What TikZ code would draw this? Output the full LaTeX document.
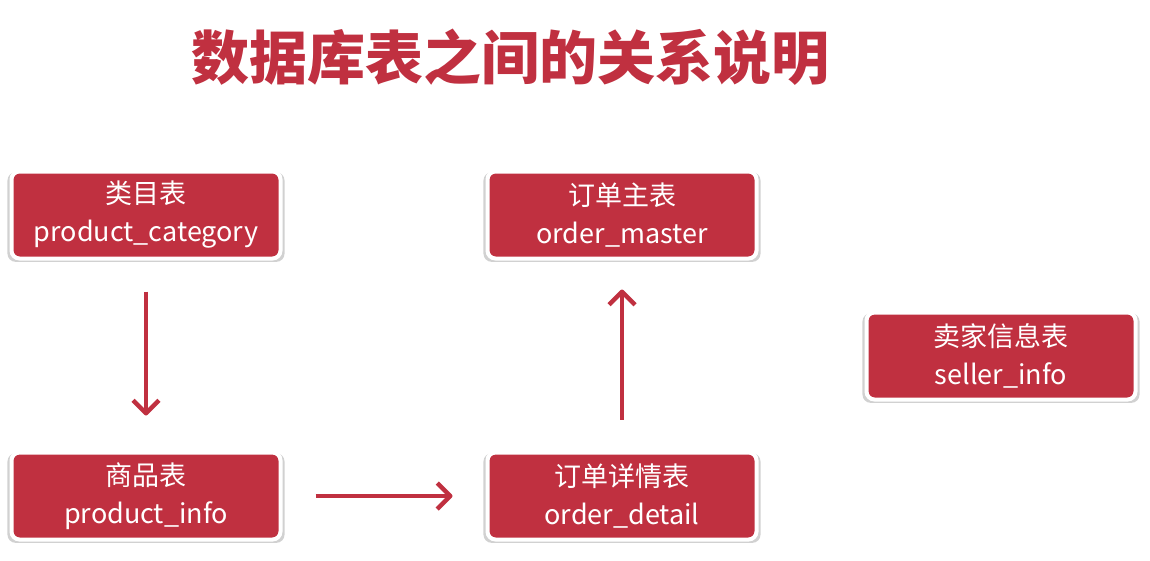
\documentclass[tikz,border=0pt]{standalone}
\usepackage{fontspec}
\setmainfont{Noto Sans CJK SC}
\usetikzlibrary{arrows.meta,shadows}
\definecolor{tblred}{RGB}{192,48,64}
\begin{document}
\begin{tikzpicture}[x=1pt, y=-1pt,
  tbl/.style={draw=white, line width=4pt, fill=tblred, rounded corners=8pt,
    minimum width=269pt, minimum height=87pt, inner sep=0pt, text=white, align=center,
    font=\fontsize{27}{38}\selectfont,
    general shadow={shadow scale=1.03, shadow yshift=-2pt, fill=black, opacity=0.18}},
  rel/.style={draw=tblred, line width=4.5pt, line join=round,
    -{Straight Barb[length=13pt,width=26pt,line join=round]}}]
\useasboundingbox[fill=white] (0,0) rectangle (1150,560);

% title
\node (title) at (510,57) [text=tblred, font=\fontsize{58}{58}\selectfont\bfseries] {数据库表之间的关系说明};

% tables
\node[tbl] (category) at (146,215) {类目表\\product\_category};
\node[tbl] (info)     at (146,496) {商品表\\product\_info};
\node[tbl] (master)   at (622,215) {订单主表\\order\_master};
\node[tbl] (detail)   at (622,496) {订单详情表\\order\_detail};
\node[tbl] (seller)   at (1001,356) {卖家信息表\\seller\_info};

% relations
\draw[rel, shorten <=31pt, shorten >=35pt] (category) -- (info);
\draw[rel, shorten <=33pt, shorten >=33pt] (info) -- (detail);
\draw[rel, shorten <=31pt, shorten >=29pt] (detail) -- (master);
\end{tikzpicture}
\end{document}
